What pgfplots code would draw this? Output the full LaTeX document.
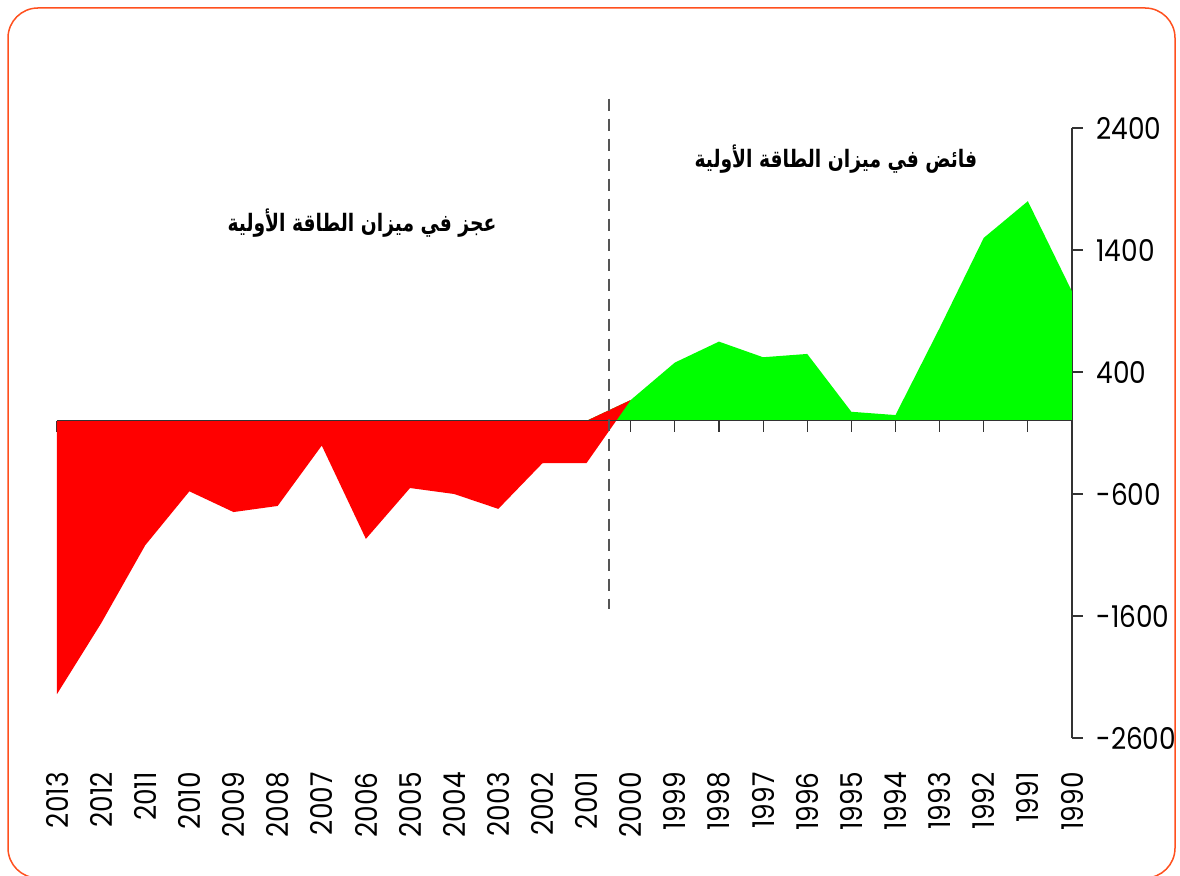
\documentclass[border=0pt]{standalone}
\usepackage{pgfplots}
\pgfplotsset{compat=1.18}
\usepackage{fontspec}
\setmainfont{Poppins}
\newfontfamily\tickfont[FakeStretch=0.88]{Poppins}
\newfontfamily\arabicfont[Script=Arabic,FakeStretch=0.78]{DejaVu Sans}
\TeXXeTstate=1
\definecolor{bord}{RGB}{255,80,30}
\definecolor{dgray}{RGB}{85,85,85}
\definecolor{ared}{RGB}{255,0,0}
\definecolor{agreen}{RGB}{0,255,0}
\begin{document}
\begin{tikzpicture}[x=1pt,y=1pt]
\useasboundingbox (0,0) rectangle (1180,875);
\draw[bord, line width=1.5pt, rounded corners=30pt] (8,-3) rectangle (1175,867);
\begin{axis}[
  at={(57pt,137pt)}, anchor=south west,
  scale only axis, width=1015pt, height=610pt,
  xmin=1990, xmax=2013, x dir=reverse,
  ymin=-2600, ymax=2400,
  clip=false,
  axis y line*=right, axis x line*=middle,
  hide obscured x ticks=false,
  axis line style={-, black!80, line width=1.2pt},
  ytick={-2600,-1600,-600,400,1400,2400},
  yticklabels={-2600,-1600,-600,400,1400,2400},
  yticklabel style={anchor=west, font=\tickfont\fontsize{30}{33}\selectfont, xshift=10pt},
  ytick align=outside,
  xtick={1990,...,2013},
  xticklabels={1990,1991,1992,1993,1994,1995,1996,1997,1998,1999,2000,2001,2002,2003,2004,2005,2006,2007,2008,2009,2010,2011,2012,2013},
  xticklabel style={rotate=90, anchor=east, font=\tickfont\fontsize{30}{33}\selectfont},
  xticklabel shift=337pt,
  xtick align=outside,
  major tick length=11pt,
  tick style={black!80, line width=1.2pt},
]
\addplot[fill=agreen, draw=none] coordinates {
(2001,0) (2000,170) (1999,477) (1998,649) (1997,521) (1996,548) (1995,74) (1994,47) (1993,760) (1992,1499) (1991,1800) (1990,1060)
} \closedcycle;
\addplot[fill=ared, draw=none] coordinates {
(2013,-2240) (2012,-1660) (2011,-1020) (2010,-578) (2009,-748) (2008,-698) (2007,-203) (2006,-968) (2005,-551) (2004,-600) (2003,-722) (2002,-348) (2001,-346) (2000,170) (2001,0)
} \closedcycle;
\draw[black!80, line width=1.2pt] (axis cs:2013,0) -- (axis cs:1990,0);
\draw[dgray, dash pattern=on 12pt off 8pt, line width=2pt] (axis cs:2000.5,2640) -- (axis cs:2000.5,-1540);
\node[font=\arabicfont\bfseries\fontsize{24}{28}\selectfont] at (axis cs:1995.35,2148) {\beginR فائض في ميزان الطاقة الأولية\endR};
\node[font=\arabicfont\bfseries\fontsize{24}{28}\selectfont] at (axis cs:2006.09,1623) {\beginR عجز في ميزان الطاقة الأولية\endR};
\end{axis}
\end{tikzpicture}
\end{document}
